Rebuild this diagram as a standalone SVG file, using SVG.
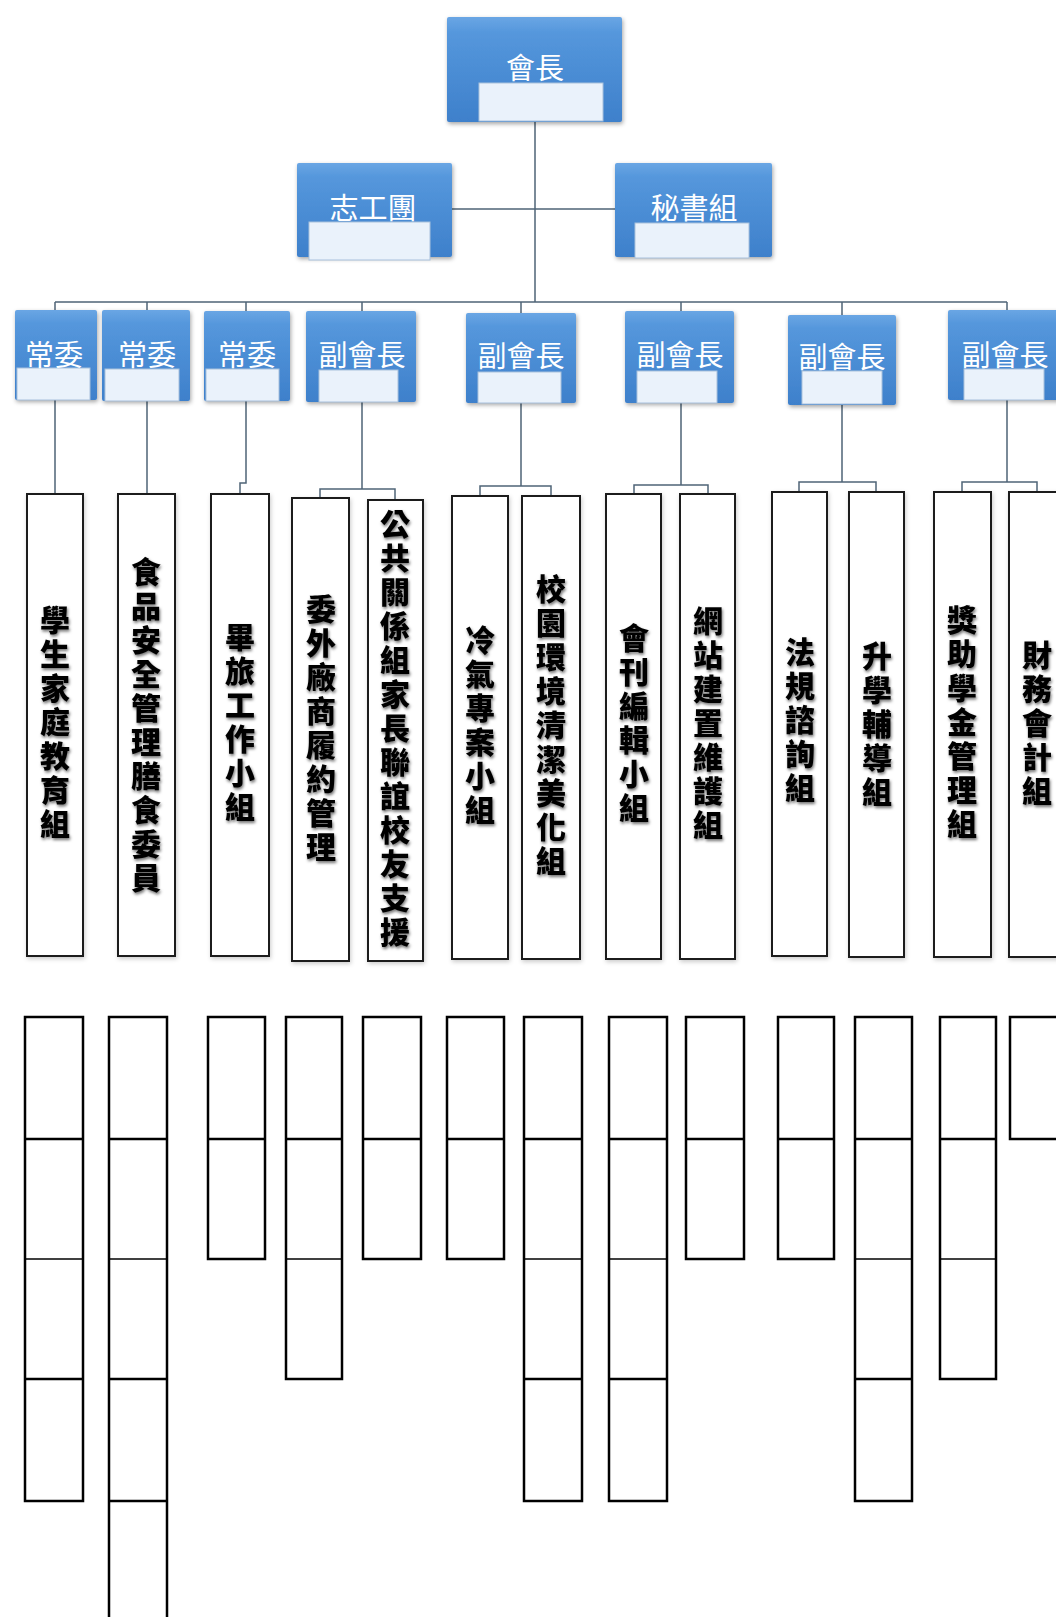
<svg xmlns="http://www.w3.org/2000/svg" width="1056" height="1617" viewBox="0 0 1056 1617">
<defs>
<linearGradient id="blue" x1="0" y1="0" x2="0" y2="1">
<stop offset="0" stop-color="#6aa6e4"/>
<stop offset="0.15" stop-color="#5597dc"/>
<stop offset="1" stop-color="#3e80cb"/>
</linearGradient>
<filter id="sh" x="-20%" y="-20%" width="140%" height="140%">
<feDropShadow dx="1" dy="2" stdDeviation="2" flood-color="#000" flood-opacity="0.35"/>
</filter>
<filter id="tsh" x="-30%" y="-10%" width="160%" height="120%">
<feDropShadow dx="1" dy="2" stdDeviation="1.6" flood-color="#000" flood-opacity="0.55"/>
</filter>
<filter id="lsh" x="-20%" y="-5%" width="140%" height="110%">
<feDropShadow dx="1" dy="2" stdDeviation="2" flood-color="#000" flood-opacity="0.2"/>
</filter>
</defs>
<style>
.box{fill:url(#blue);filter:url(#sh);}
.inner{fill:#eaf2fb;stroke:#a9c1dc;stroke-width:1;}
.bt{fill:#ffffff;font-family:"Noto Sans CJK TC","Noto Sans CJK SC",sans-serif;font-size:29px;text-anchor:middle;}
.conn{fill:none;stroke:#4f6477;stroke-width:1.5;}
.leaf{fill:#ffffff;stroke:#1a1a1a;stroke-width:2;filter:url(#lsh);}
.lt{fill:#000;font-family:"Noto Sans CJK TC","Noto Sans CJK SC",sans-serif;font-weight:900;font-size:30px;writing-mode:vertical-rl;text-anchor:middle;letter-spacing:4px;filter:url(#tsh);}
.cell{fill:none;stroke:#000;stroke-width:2.5;}
.thin{stroke:#000;stroke-width:1.3;}
.thick{stroke:#000;stroke-width:2.5;}
</style>

<g id="connectors">
<path class="conn" d="M535 122V302M452 209H615M55 302H1007M55 302V311M147 302V311M246 302V311M362 302V311M521 302V313M681 302V313M842 302V315M1007 302V310"/>
<path class="conn" d="M55 400V494M147 400V494M246 400V483H240V494"/>
<path class="conn" d="M362 402V489M320 498V489H395V500"/>
<path class="conn" d="M521 403V486M480 496V486H551V496"/>
<path class="conn" d="M681 403V485M634 494V485H708V494"/>
<path class="conn" d="M842 405V482M799 492V482H876V492"/>
<path class="conn" d="M1007 400V482M962 492V482H1037V492"/>
</g>

<g id="n-president">
<rect class="box" x="447" y="17" width="175" height="105" rx="2"/>
<rect class="inner" x="479" y="83" width="124" height="38"/>
<text class="bt" x="535" y="79">會長</text>
</g>
<g id="n-volunteer">
<rect class="box" x="297" y="163" width="155" height="94" rx="2"/>
<rect class="inner" x="309" y="222" width="121" height="38"/>
<text class="bt" x="373" y="219">志工團</text>
</g>
<g id="n-secretary">
<rect class="box" x="615" y="163" width="157" height="94" rx="2"/>
<rect class="inner" x="635" y="223" width="114" height="35"/>
<text class="bt" x="694" y="219">秘書組</text>
</g>

<g id="n-sc1">
<rect class="box" x="15" y="310" width="82" height="90" rx="2"/>
<rect class="inner" x="17" y="368" width="73" height="32"/>
<text class="bt" x="54" y="366">常委</text>
</g>
<g id="n-sc2">
<rect class="box" x="102" y="310" width="88" height="91" rx="2"/>
<rect class="inner" x="105" y="369" width="74" height="32"/>
<text class="bt" x="147" y="366">常委</text>
</g>
<g id="n-sc3">
<rect class="box" x="204" y="311" width="86" height="90" rx="2"/>
<rect class="inner" x="206" y="369" width="73" height="32"/>
<text class="bt" x="247" y="366">常委</text>
</g>
<g id="n-vp1">
<rect class="box" x="306" y="311" width="110" height="91" rx="2"/>
<rect class="inner" x="319" y="370" width="79" height="32"/>
<text class="bt" x="362" y="366">副會長</text>
</g>
<g id="n-vp2">
<rect class="box" x="466" y="313" width="110" height="90" rx="2"/>
<rect class="inner" x="478" y="372" width="83" height="31"/>
<text class="bt" x="521" y="367">副會長</text>
</g>
<g id="n-vp3">
<rect class="box" x="625" y="311" width="109" height="92" rx="2"/>
<rect class="inner" x="637" y="371" width="80" height="32"/>
<text class="bt" x="680" y="366">副會長</text>
</g>
<g id="n-vp4">
<rect class="box" x="788" y="315" width="108" height="90" rx="2"/>
<rect class="inner" x="802" y="371" width="80" height="33"/>
<text class="bt" x="842" y="368">副會長</text>
</g>
<g id="n-vp5">
<rect class="box" x="948" y="310" width="112" height="90" rx="2"/>
<rect class="inner" x="964" y="369" width="80" height="31"/>
<text class="bt" x="1005" y="366">副會長</text>
</g>

<g id="n-l1"><rect class="leaf" x="27" y="494" width="56" height="462"/><text class="lt" x="55" y="724">學生家庭教育組</text></g>
<g id="n-l2"><rect class="leaf" x="118" y="494" width="57" height="462"/><text class="lt" x="146" y="727">食品安全管理膳食委員</text></g>
<g id="n-l3"><rect class="leaf" x="211" y="494" width="58" height="462"/><text class="lt" x="240" y="724">畢旅工作小組</text></g>
<g id="n-l4"><rect class="leaf" x="292" y="498" width="57" height="463"/><text class="lt" x="321" y="730">委外廠商履約管理</text></g>
<g id="n-l5"><rect class="leaf" x="368" y="500" width="55" height="461"/><text class="lt" x="395" y="730">公共關係組家長聯誼校友支援</text></g>
<g id="n-l6"><rect class="leaf" x="452" y="496" width="56" height="463"/><text class="lt" x="480" y="727">冷氣專案小組</text></g>
<g id="n-l7"><rect class="leaf" x="522" y="496" width="58" height="463"/><text class="lt" x="551" y="727">校園環境清潔美化組</text></g>
<g id="n-l8"><rect class="leaf" x="606" y="494" width="55" height="465"/><text class="lt" x="634" y="725">會刊編輯小組</text></g>
<g id="n-l9"><rect class="leaf" x="680" y="494" width="55" height="465"/><text class="lt" x="708" y="725">網站建置維護組</text></g>
<g id="n-l10"><rect class="leaf" x="772" y="492" width="55" height="464"/><text class="lt" x="800" y="722">法規諮詢組</text></g>
<g id="n-l11"><rect class="leaf" x="849" y="492" width="55" height="465"/><text class="lt" x="877" y="726">升學輔導組</text></g>
<g id="n-l12"><rect class="leaf" x="934" y="492" width="57" height="465"/><text class="lt" x="962" y="724">獎助學金管理組</text></g>
<g id="n-l13"><rect class="leaf" x="1009" y="492" width="56" height="465"/><text class="lt" x="1037" y="725">財務會計組</text></g>

<g id="grid">
<g id="col-a"><rect class="cell" x="25" y="1017" width="58" height="484"/><path class="thick" d="M25 1139H83M25 1379H83"/><path class="thin" d="M25 1259H83"/></g>
<g id="col-b"><rect class="cell" x="109" y="1017" width="58" height="620"/><path class="thick" d="M109 1139H167M109 1379H167M109 1501H167"/><path class="thin" d="M109 1259H167"/></g>
<g id="col-c"><rect class="cell" x="208" y="1017" width="57" height="242"/><path class="thick" d="M208 1139H265"/></g>
<g id="col-d"><rect class="cell" x="286" y="1017" width="56" height="362"/><path class="thick" d="M286 1139H342"/><path class="thin" d="M286 1259H342"/></g>
<g id="col-e"><rect class="cell" x="363" y="1017" width="58" height="242"/><path class="thick" d="M363 1139H421"/></g>
<g id="col-f"><rect class="cell" x="447" y="1017" width="57" height="242"/><path class="thick" d="M447 1139H504"/></g>
<g id="col-g"><rect class="cell" x="524" y="1017" width="58" height="484"/><path class="thick" d="M524 1139H582M524 1379H582"/><path class="thin" d="M524 1259H582"/></g>
<g id="col-h"><rect class="cell" x="609" y="1017" width="58" height="484"/><path class="thick" d="M609 1139H667M609 1379H667"/><path class="thin" d="M609 1259H667"/></g>
<g id="col-i"><rect class="cell" x="686" y="1017" width="58" height="242"/><path class="thick" d="M686 1139H744"/></g>
<g id="col-j"><rect class="cell" x="778" y="1017" width="56" height="242"/><path class="thick" d="M778 1139H834"/></g>
<g id="col-k"><rect class="cell" x="855" y="1017" width="57" height="484"/><path class="thick" d="M855 1139H912M855 1379H912"/><path class="thin" d="M855 1259H912"/></g>
<g id="col-l"><rect class="cell" x="940" y="1017" width="56" height="362"/><path class="thick" d="M940 1139H996"/><path class="thin" d="M940 1259H996"/></g>
<g id="col-m"><rect class="cell" x="1010" y="1017" width="60" height="122"/></g>
</g>
</svg>
